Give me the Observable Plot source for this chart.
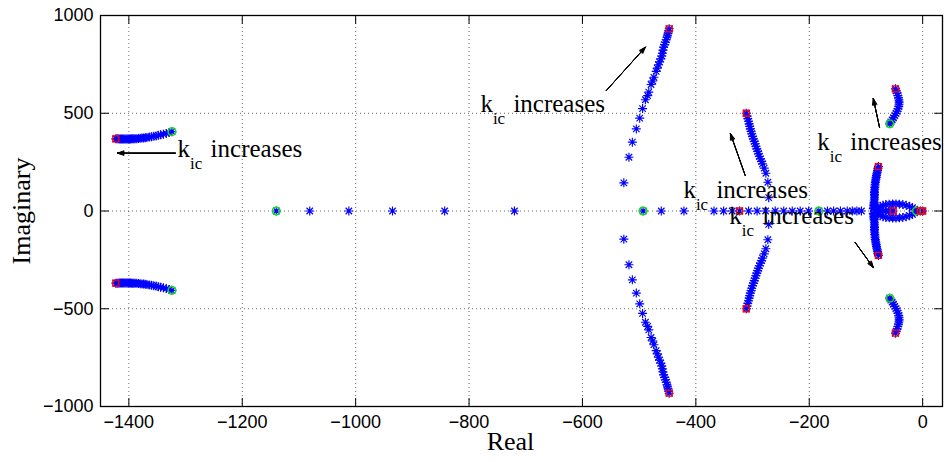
<!DOCTYPE html>
<html>
<head>
<meta charset="utf-8">
<script src="https://cdn.jsdelivr.net/npm/d3@7"></script>
<script src="https://cdn.jsdelivr.net/npm/@observablehq/plot@0.6"></script>
<style>
  html, body { margin: 0; padding: 0; background: #fff; }
  #chart svg { display: block; }
</style>
</head>
<body>
<div id="chart"></div>
<script>
// Root locus of the closed loop as k_ic varies (upper half-plane of each branch;
// the lower half follows as complex conjugates).

// Far-left complex pair
const farLeftRe = [-1324, -1329, -1334, -1339, -1344, -1348, -1352, -1356, -1360, -1364, -1368, -1371, -1374, -1377, -1380, -1383, -1386, -1389, -1391, -1393, -1395, -1397, -1399, -1401, -1403, -1405, -1407, -1409, -1411, -1413, -1415, -1417, -1419, -1421, -1423];
const farLeftIm = [406, 401, 397, 393, 390, 387, 384, 382, 380, 378, 376, 375, 374, 373, 372, 371, 370, 370, 369, 369, 369, 368, 368, 368, 368, 368, 368, 368, 368, 368, 368, 368, 369, 369, 369];

// Real roots travelling right towards the breakaway point
const realLeftRe = [-1140, -1081, -1012, -935, -843, -720];

// Large complex pair after the breakaway near -530
const bigRe = [-527, -518, -512, -505, -499, -494, -489, -485, -483, -479, -476, -474, -470, -468, -466, -464, -462, -460, -459, -458, -457, -455, -454, -452, -451, -450, -449, -448, -447];
const bigIm = [144, 275, 352, 420, 475, 524, 569, 590, 608, 647, 665, 684, 714, 731, 748, 763, 778, 793, 807, 823, 838, 851, 863, 876, 889, 899, 909, 921, 932];

// Real roots between -500 and -100
const realMidRe = [-493, -461, -421, -368, -351, -336, -323, -307, -292, -277, -260, -245, -230, -216, -201, -183, -168, -157, -145, -133, -124, -116, -108];

// Complex pair near -300
const midRe = [-311, -309.5, -308.5, -307, -306, -305, -304, -302.5, -301.5, -300, -298.5, -297, -295.5, -294, -292.5, -291, -289.5, -288, -286, -284, -282.5, -279.5, -276.5, -273, -271.5];
const midIm = [500, 486, 472, 459, 446, 433, 420, 407, 395, 382, 369, 356, 344, 331, 318, 305, 293, 280, 267, 254, 241, 219, 193, 147, 68];

// Outer pair near the imaginary axis
const rightFarRe = [-58, -56, -53.8, -51.5, -49.2, -47, -45, -43.5, -42.2, -41.6, -41.4, -41.8, -42.7, -43.8, -45, -46.5, -48];
const rightFarIm = [446, 456, 466, 477, 488, 499, 510, 522, 535, 546, 557, 568, 579, 591, 603, 614, 625];

// Pair leaving the real axis near -85
const rightMidRe = [-87, -86.5, -86, -86, -85.5, -85.5, -85, -85, -85, -85, -85, -85, -84.5, -84.5, -84, -84, -83.5, -83, -82.5, -82, -81.5, -81, -80, -79.5, -79, -78];
const rightMidIm = [12, 20, 28, 35, 43, 51, 60, 68, 77, 85, 94, 102, 111, 120, 128, 137, 146, 154, 163, 172, 181, 190, 199, 208, 218, 227];

// Small loop close to the origin
const loopRe = [-11, -14, -18, -23, -29, -35, -41, -47, -53, -59, -65, -70, -75, -79, -82, -84];
const loopIm = [0, 9, 17, 24, 29, 33, 35, 36, 36, 35, 33, 29, 24, 17, 9, 0];
const realInnerRe = [-80, -75, -70, -65, -60, -56, -52, -4, 0];

// Starting points (k_ic = 0) and end points
const startRe = [-1324, -1140, -493, -183, -58, -11];
const startIm = [406, 0, 0, 0, 446, 0];
const endRe = [-1423, -447, -311, -323, -78, -52, -48, -4, 0];
const endIm = [369, 932, 500, 0, 227, 0, 625, 0, 0];

// Axis ticks
const xTicks = [-1400, -1200, -1000, -800, -600, -400, -200, 0];
const yTicks = [-1000, -500, 0, 500, 1000];

// "k_ic increases" notes: text anchor and arrow (tail -> head)
const noteRe = [-1314, -780, -422, -341, -186];
const noteIm = [274, 505, 69, -64, 313];
const arrowFromRe = [-1318, -558, -313, -119, -76];
const arrowFromIm = [296, 616, 182, -161, 427];
const arrowToRe = [-1420, -489, -339, -87, -87];
const arrowToIm = [296, 838, 396, -289, 575];

// Expand an upper-half branch into both conjugate halves
function withConjugates(re, im) {
  const pts = [];
  re.forEach((r, i) => {
    const v = im ? im[i] : 0;
    pts.push({re: r, im: v});
    if (v !== 0) pts.push({re: r, im: -v});
  });
  return pts;
}

const locus = [
  ...withConjugates(farLeftRe, farLeftIm),
  ...withConjugates(realLeftRe),
  ...withConjugates(bigRe, bigIm),
  ...withConjugates(realMidRe),
  ...withConjugates(midRe, midIm),
  ...withConjugates(rightFarRe, rightFarIm),
  ...withConjugates(rightMidRe, rightMidIm),
  ...withConjugates(loopRe, loopIm),
  ...withConjugates(realInnerRe)
];
const starts = withConjugates(startRe, startIm);
const ends = withConjugates(endRe, endIm);
const notes = noteRe.map((r, i) => ({re: r, im: noteIm[i]}));
const arrows = arrowFromRe.map((r, i) => ({
  x1: r, y1: arrowFromIm[i], x2: arrowToRe[i], y2: arrowToIm[i]
}));

// MATLAB-style '*' marker
const asterisk = {
  draw(ctx, size) {
    const r = Math.sqrt(size / Math.PI);
    const d = r * 0.72;
    ctx.moveTo(-r, 0); ctx.lineTo(r, 0);
    ctx.moveTo(0, -r); ctx.lineTo(0, r);
    ctx.moveTo(-d, -d); ctx.lineTo(d, d);
    ctx.moveTo(-d, d); ctx.lineTo(d, -d);
  }
};
// Inward tick: a straight segment of the vector's length
const tickShape = {
  draw(ctx, l) { ctx.moveTo(0, 0); ctx.lineTo(0, -l); }
};
// Plain integers with a true minus sign, no thousands separator
const fmt = d => (d < 0 ? "\u2212" : "") + Math.abs(d);

const serif = "'Liberation Serif', 'Times New Roman', serif";
const sans = "'Liberation Sans', Arial, Helvetica, sans-serif";
const gridStyle = {stroke: "#444", strokeOpacity: 1, strokeWidth: 0.8, strokeDasharray: "1,3"};
const tickStyle = {length: 8, shape: tickShape, anchor: "start", stroke: "black", strokeWidth: 1};

const chart = Plot.plot({
  width: 945,
  height: 462,
  marginLeft: 100,
  marginRight: 3,
  marginTop: 15,
  marginBottom: 56,
  x: {domain: [-1450, 35]},
  y: {domain: [-1000, 1000]},
  style: {fontFamily: sans, fontSize: "18px", background: "white", color: "black"},
  marks: [
    Plot.gridX(xTicks, gridStyle),
    Plot.gridY(yTicks, gridStyle),
    Plot.axisX(xTicks, {tickSize: 0, tickPadding: 9, label: null, fontSize: 18, tickFormat: fmt}),
    Plot.axisY(yTicks, {tickSize: 0, tickPadding: 7, label: null, fontSize: 18, tickFormat: fmt}),
    // inward ticks on all four sides
    Plot.vector(xTicks, {x: d => d, y: -1000, rotate: 0, ...tickStyle}),
    Plot.vector(xTicks, {x: d => d, y: 1000, rotate: 180, ...tickStyle}),
    Plot.vector(yTicks, {x: -1450, y: d => d, rotate: 90, ...tickStyle}),
    Plot.vector(yTicks, {x: 35, y: d => d, rotate: 270, ...tickStyle}),
    Plot.frame({stroke: "black", strokeWidth: 1.3}),
    // locus
    Plot.dot(locus, {x: "re", y: "im", symbol: asterisk, r: 4.5, stroke: "#0000ff", fill: "none", strokeWidth: 1.15}),
    Plot.dot(starts, {x: "re", y: "im", symbol: "circle", r: 3.8, stroke: "#11dd11", fill: "none", strokeWidth: 1.5}),
    Plot.dot(ends, {x: "re", y: "im", symbol: "square", r: 3.4, stroke: "#ff0000", fill: "none", strokeWidth: 1.3}),
    // annotation arrows (several head angles give a filled head)
    ...[40, 28, 16, 6].map(a => Plot.arrow(arrows, {
      x1: "x1", y1: "y1", x2: "x2", y2: "y2",
      headLength: 10, headAngle: a, stroke: "black", strokeWidth: 1
    })),
    Plot.text(notes, {x: "re", y: "im", text: () => "k", fontFamily: serif, fontSize: 25, textAnchor: "start", lineAnchor: "bottom", fill: "black"}),
    Plot.text(notes, {x: "re", y: "im", text: () => "ic", fontFamily: serif, fontSize: 17, textAnchor: "start", lineAnchor: "bottom", dx: 12.5, dy: 12, fill: "black"}),
    Plot.text(notes, {x: "re", y: "im", text: () => "increases", fontFamily: serif, fontSize: 25, textAnchor: "start", lineAnchor: "bottom", dx: 33, fill: "black"}),
    // axis titles
    Plot.text(["Real"], {frameAnchor: "bottom", text: d => d, dx: -11, dy: 43, lineAnchor: "bottom", fontFamily: serif, fontSize: 26, fill: "black"}),
    Plot.text(["Imaginary"], {frameAnchor: "left", text: d => d, dx: -79, rotate: -90, textAnchor: "middle", lineAnchor: "middle", fontFamily: serif, fontSize: 26, fill: "black"})
  ]
});

document.getElementById("chart").appendChild(chart);
</script>
</body>
</html>
